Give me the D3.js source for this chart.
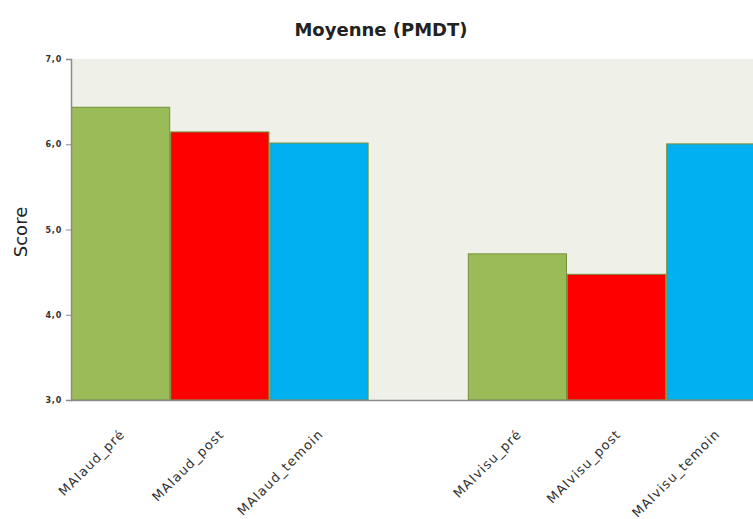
<!DOCTYPE html>
<html>
<head>
<meta charset="utf-8">
<script src="https://cdn.jsdelivr.net/npm/d3@7"></script>
<style>
  body { margin: 0; background: #fff; }
  svg { display: block; }
</style>
</head>
<body>
<div id="chart"></div>
<script>
// categories, with an empty slot between the two groups
var categories = ['MAIaud_pré', 'MAIaud_post', 'MAIaud_temoin', '', 'MAIvisu_pré', 'MAIvisu_post', 'MAIvisu_temoin'];
var scores = [6.44, 6.15, 6.02, null, 4.72, 4.48, 6.01];
var colors = ['#9bbb59', '#ff0000', '#00b0f0', null, '#9bbb59', '#ff0000', '#00b0f0'];
var yTicks = [3, 4, 5, 6, 7];

var width = 753,
  height = 519,
  mLeft = 71,
  mTop = 59,
  mBottom = 400;

var svg = d3.select('#chart')
  .append('svg')
  .attr('width', width)
  .attr('height', height);

var x = d3.scaleBand()
  .domain(d3.range(categories.length))
  .range([mLeft, mLeft + 7 * 99.2])
  .padding(0);

var y = d3.scaleLinear()
  .domain([3, 7])
  .range([mBottom, mTop]);

// plot background
svg.append('rect')
  .attr('x', mLeft)
  .attr('y', mTop)
  .attr('width', width - mLeft)
  .attr('height', mBottom - mTop)
  .attr('fill', '#eff1e9');

var barIdx = d3.range(categories.length).filter(function(i) { return scores[i] !== null; });

svg.append('g')
  .selectAll('rect')
  .data(barIdx)
  .enter()
  .append('rect')
  .attr('x', function(i) { return x(i) + 0.5; })
  .attr('y', function(i) { return y(scores[i]) + 0.5; })
  .attr('width', x.bandwidth() - 1)
  .attr('height', function(i) { return y(3) - y(scores[i]) - 0.5; })
  .attr('fill', function(i) { return colors[i]; })
  .attr('stroke', '#72903a')
  .attr('stroke-width', 1);

// y axis
var yAxis = d3.axisLeft(y)
  .tickValues(yTicks)
  .tickSize(5)
  .tickFormat(function(d) { return d3.format('.1f')(d).replace('.', ','); });

var ya = svg.append('g')
  .attr('transform', 'translate(' + mLeft + ',0)')
  .call(yAxis);
ya.select('.domain').attr('stroke', '#8c8c8c').attr('stroke-width', 1.5);
ya.selectAll('.tick line').attr('stroke', '#8c8c8c');
ya.selectAll('.tick text')
  .attr('font-family', 'DejaVu Sans')
  .attr('font-weight', 'bold')
  .attr('font-size', '8px')
  .attr('letter-spacing', '0.8px')
  .attr('fill', '#333')
  .attr('x', -9);

// x axis line
svg.append('line')
  .attr('x1', mLeft)
  .attr('x2', width)
  .attr('y1', mBottom + 0.5)
  .attr('y2', mBottom + 0.5)
  .attr('stroke', '#8c8c8c')
  .attr('stroke-width', 1.5);

// x labels
svg.append('g')
  .selectAll('text')
  .data(d3.range(categories.length))
  .enter()
  .append('text')
  .attr('transform', function(i) {
    return 'translate(' + (x(i) + x.bandwidth() / 2 + 5) + ',435) rotate(-45)';
  })
  .attr('text-anchor', 'end')
  .attr('font-family', 'DejaVu Sans')
  .attr('font-size', '13px')
  .attr('letter-spacing', '1.1px')
  .attr('fill', '#333')
  .text(function(i) { return categories[i]; });

// title
svg.append('text')
  .attr('x', 381)
  .attr('y', 36)
  .attr('text-anchor', 'middle')
  .attr('font-family', 'DejaVu Sans')
  .attr('font-weight', 'bold')
  .attr('font-size', '18px')
  .attr('fill', '#222')
  .text('Moyenne (PMDT)');

// y title
svg.append('text')
  .attr('transform', 'translate(27,232) rotate(-90)')
  .attr('text-anchor', 'middle')
  .attr('font-family', 'DejaVu Sans')
  .attr('font-size', '18px')
  .attr('fill', '#222')
  .text('Score');
</script>
</body>
</html>
